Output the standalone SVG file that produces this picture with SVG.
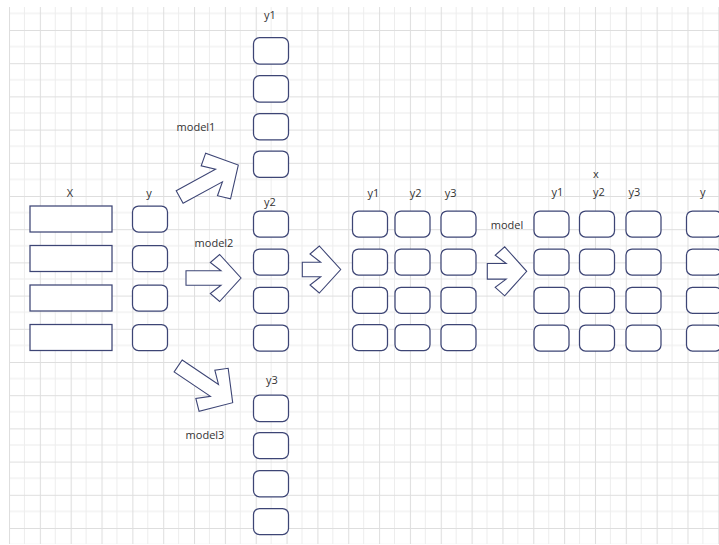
<svg xmlns="http://www.w3.org/2000/svg" width="719" height="545" viewBox="0 0 719 545">
<style>
.box{fill:#fff;stroke:#3d4575;stroke-width:1.25}
.arr{fill:#fff;stroke:#3d4575;stroke-width:1.1;stroke-linejoin:miter}
.t{font-family:"Open Sans","Noto Sans","Liberation Sans",sans-serif;font-size:11px;fill:#333;text-anchor:middle}
</style>
<defs>
<pattern id="grid" patternUnits="userSpaceOnUse" x="9" y="30" width="30.84" height="33.2">
<rect width="30.84" height="33.2" fill="#fff"/>
<line x1="15.42" y1="0" x2="15.42" y2="33.2" stroke="#ededed" stroke-width="1"/>
<line x1="0" y1="16.6" x2="30.84" y2="16.6" stroke="#ededed" stroke-width="1"/>
<line x1="0.5" y1="0" x2="0.5" y2="33.2" stroke="#dedede" stroke-width="1"/>
<line x1="0" y1="0.5" x2="30.84" y2="0.5" stroke="#dedede" stroke-width="1"/>
</pattern>
</defs>
<rect width="719" height="545" fill="#fff"/>
<rect x="9" y="7" width="710" height="537" fill="url(#grid)"/>

<g id="connectors">
<path class="arr" transform="translate(238.3,165) rotate(-28.6)" d="M-66.8,-7.2 L-22,-7.2 L-33,-17 L-23,-26 L0,0 L-23,26 L-33,17 L-22,7.2 L-66.8,7.2 Z"/>
<path class="arr" transform="translate(241,278)" d="M-55,-7.2 L-20,-7.2 L-30.7,-15.5 L-21.4,-23.5 L0,0 L-21.4,23.5 L-30.7,15.5 L-20,7.2 L-55,7.2 Z"/>
<path class="arr" transform="translate(232.7,402.7) rotate(34)" d="M-65.8,-7.2 L-22,-7.2 L-33,-17 L-23,-26 L0,0 L-23,26 L-33,17 L-22,7.2 L-65.8,7.2 Z"/>
<path class="arr" transform="translate(340.7,269.5)" d="M-38.4,-7.2 L-20,-7.2 L-30.7,-15.5 L-21.4,-23.5 L0,0 L-21.4,23.5 L-30.7,15.5 L-20,7.2 L-38.4,7.2 Z"/>
<path class="arr" transform="translate(526.7,271.3)" d="M-39.4,-7.8 L-20.5,-7.8 L-31.5,-16 L-22,-24.5 L0,0 L-22,24.5 L-31.5,16 L-20.5,7.8 L-39.4,7.8 Z"/>
</g>

<g id="labels">
<text class="t" x="70" y="197">X</text>
<text class="t" x="149" y="197">y</text>
<text class="t" x="270" y="19">y1</text>
<text class="t" x="270" y="206">y2</text>
<text class="t" x="272" y="384">y3</text>
<text class="t" x="196" y="131">model1</text>
<text class="t" x="214" y="247">model2</text>
<text class="t" x="205" y="439">model3</text>
<text class="t" x="373.3" y="196.5">y1</text>
<text class="t" x="415.7" y="196.5">y2</text>
<text class="t" x="450.7" y="196.5">y3</text>
<text class="t" x="507" y="229">model</text>
<text class="t" x="596" y="178">x</text>
<text class="t" x="557.3" y="196">y1</text>
<text class="t" x="599" y="196">y2</text>
<text class="t" x="634.3" y="196">y3</text>
<text class="t" x="702.7" y="196">y</text>
</g>

<g id="X1"><rect class="box" x="30" y="206" width="82" height="26"/></g>
<g id="X2"><rect class="box" x="30" y="245.5" width="82" height="26"/></g>
<g id="X3"><rect class="box" x="30" y="285" width="82" height="26"/></g>
<g id="X4"><rect class="box" x="30" y="324.5" width="82" height="26"/></g>
<g id="Y1"><rect class="box" x="132.5" y="206" width="35" height="26" rx="6"/></g>
<g id="Y2"><rect class="box" x="132.5" y="245.5" width="35" height="26" rx="6"/></g>
<g id="Y3"><rect class="box" x="132.5" y="285" width="35" height="26" rx="6"/></g>
<g id="Y4"><rect class="box" x="132.5" y="324.5" width="35" height="26" rx="6"/></g>

<g id="y1_1"><rect class="box" x="253.5" y="37.7" width="35" height="26.3" rx="6"/></g>
<g id="y1_2"><rect class="box" x="253.5" y="75.7" width="35" height="26.3" rx="6"/></g>
<g id="y1_3"><rect class="box" x="253.5" y="113.5" width="35" height="26.3" rx="6"/></g>
<g id="y1_4"><rect class="box" x="253.5" y="151" width="35" height="26.3" rx="6"/></g>
<g id="y2_1"><rect class="box" x="253.5" y="211" width="35" height="26" rx="6"/></g>
<g id="y2_2"><rect class="box" x="253.5" y="249" width="35" height="26" rx="6"/></g>
<g id="y2_3"><rect class="box" x="253.5" y="287.3" width="35" height="26" rx="6"/></g>
<g id="y2_4"><rect class="box" x="253.5" y="325" width="35" height="26" rx="6"/></g>
<g id="y3_1"><rect class="box" x="253.5" y="395" width="35" height="26.5" rx="6"/></g>
<g id="y3_2"><rect class="box" x="253.5" y="432.5" width="35" height="26" rx="6"/></g>
<g id="y3_3"><rect class="box" x="253.5" y="470.5" width="35" height="26.3" rx="6"/></g>
<g id="y3_4"><rect class="box" x="253.5" y="508.5" width="35" height="26" rx="6"/></g>

<g id="m_y1_1"><rect class="box" x="352.5" y="211" width="35" height="26" rx="6"/></g>
<g id="m_y1_2"><rect class="box" x="352.5" y="249" width="35" height="26" rx="6"/></g>
<g id="m_y1_3"><rect class="box" x="352.5" y="287.3" width="35" height="26" rx="6"/></g>
<g id="m_y1_4"><rect class="box" x="352.5" y="324.5" width="35" height="26" rx="6"/></g>
<g id="m_y2_1"><rect class="box" x="395" y="211" width="35" height="26" rx="6"/></g>
<g id="m_y2_2"><rect class="box" x="395" y="249" width="35" height="26" rx="6"/></g>
<g id="m_y2_3"><rect class="box" x="395" y="287.3" width="35" height="26" rx="6"/></g>
<g id="m_y2_4"><rect class="box" x="395" y="324.5" width="35" height="26" rx="6"/></g>
<g id="m_y3_1"><rect class="box" x="441" y="211" width="35" height="26" rx="6"/></g>
<g id="m_y3_2"><rect class="box" x="441" y="249" width="35" height="26" rx="6"/></g>
<g id="m_y3_3"><rect class="box" x="441" y="287.3" width="35" height="26" rx="6"/></g>
<g id="m_y3_4"><rect class="box" x="441" y="324.5" width="35" height="26" rx="6"/></g>

<g id="r_y1_1"><rect class="box" x="534" y="211" width="35" height="26" rx="6"/></g>
<g id="r_y1_2"><rect class="box" x="534" y="249" width="35" height="26" rx="6"/></g>
<g id="r_y1_3"><rect class="box" x="534" y="287.3" width="35" height="26" rx="6"/></g>
<g id="r_y1_4"><rect class="box" x="534" y="325" width="35" height="26" rx="6"/></g>
<g id="r_y2_1"><rect class="box" x="579.5" y="211" width="35" height="26" rx="6"/></g>
<g id="r_y2_2"><rect class="box" x="579.5" y="249" width="35" height="26" rx="6"/></g>
<g id="r_y2_3"><rect class="box" x="579.5" y="287.3" width="35" height="26" rx="6"/></g>
<g id="r_y2_4"><rect class="box" x="579.5" y="325" width="35" height="26" rx="6"/></g>
<g id="r_y3_1"><rect class="box" x="626" y="211" width="35" height="26" rx="6"/></g>
<g id="r_y3_2"><rect class="box" x="626" y="249" width="35" height="26" rx="6"/></g>
<g id="r_y3_3"><rect class="box" x="626" y="287.3" width="35" height="26" rx="6"/></g>
<g id="r_y3_4"><rect class="box" x="626" y="325" width="35" height="26" rx="6"/></g>
<g id="r_y_1"><rect class="box" x="686.5" y="211" width="35" height="26" rx="6"/></g>
<g id="r_y_2"><rect class="box" x="686.5" y="249" width="35" height="26" rx="6"/></g>
<g id="r_y_3"><rect class="box" x="686.5" y="287.3" width="35" height="26" rx="6"/></g>
<g id="r_y_4"><rect class="box" x="686.5" y="325" width="35" height="26" rx="6"/></g>
</svg>
